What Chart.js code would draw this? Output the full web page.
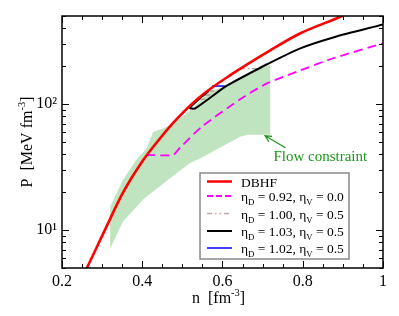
<!DOCTYPE html>
<html>
<head>
<meta charset="utf-8">
<script src="https://cdn.jsdelivr.net/npm/chart.js@4.4.1/dist/chart.umd.min.js"></script>
<style>
  html, body { margin: 0; padding: 0; background: #fff; }
  #wrap { width: 399px; height: 316px; }
</style>
</head>
<body>
<div id="wrap"><canvas id="c" width="399" height="316"></canvas></div>
<script>
// ---- data ----
const dbhfN = [0.25, 0.262, 0.31, 0.35, 0.40, 0.437, 0.477, 0.542, 0.626, 0.719, 0.793, 0.898, 0.92];
const dbhfP = [4.2, 5.0, 10.5, 19.3, 35, 50, 71, 113, 175, 267, 363, 500, 540];

const eta092N = [0.41, 0.477, 0.494, 0.548, 0.651, 0.711, 0.794, 0.876, 1.0];
const eta092P = [39.5, 39.5, 45, 66, 113, 146, 185, 231, 303];

// grey dash-dot: short plateau pieces (the rest lies under the black curve)
const eta100N = [0.545, 0.570, 0.57, 0.557, 0.582, 0.582, 0.567, 0.595, 0.595, 0.643, 0.700];
const eta100P = [109, 109, null, 118, 118, null, 127, 127, null, 191, 191];

const eta103N = [0.565, 0.519, 0.532, 0.606, 0.626, 0.711, 0.794, 0.876, 1.0];
const eta103P = [127, 93.5, 92.5, 137, 149, 207, 277, 338, 428];

const eta102N = [0.574, 0.606];
const eta102P = [139, 139];

// flow constraint band, polygon traced clockwise
const flowN = [0.32, 0.32, 0.352, 0.385, 0.412, 0.427, 0.462, 0.489, 0.512, 0.534, 0.565, 0.606, 0.626, 0.671, 0.719,
               0.719, 0.662, 0.644, 0.544, 0.519, 0.487, 0.402, 0.352, 0.32];
const flowP = [7.1, 15.4, 25.1, 36, 45, 60, 66, 75, 85, 98, 125, 137, 150, 180, 205,
               57, 57, 55, 37, 34, 28.5, 17.5, 11.7, 7.1];

const xMajorTicks = [0.2, 0.4, 0.6, 0.8, 1.0];
const xMinorTicks = [0.25, 0.3, 0.35, 0.45, 0.5, 0.55, 0.65, 0.7, 0.75, 0.85, 0.9, 0.95];
const yMajorTicks = [10, 100];
const yMinorTicks = [5, 6, 7, 8, 9, 20, 30, 40, 50, 60, 70, 80, 90, 200, 300, 400, 500];

const flowLabel = { n: 0.727, P: 35.5, text: 'Flow constraint' };
const flowArrow = { fromN: 0.757, fromP: 45, toN: 0.706, toP: 56 };

const legendItems = [
  { color: '#ff0000', dash: [], width: 2.5, parts: [['DBHF']] },
  { color: '#ff00ff', dash: [6, 3], width: 1.8, parts: [['η'], ['D', 'sub'], [' = 0.92, η'], ['V', 'sub'], [' = 0.0']] },
  { color: '#c8a4a4', dash: [5, 3, 1.5, 3, 1.5, 3], width: 1.5, parts: [['η'], ['D', 'sub'], [' = 1.00, η'], ['V', 'sub'], [' = 0.5']] },
  { color: '#000000', dash: [], width: 2, parts: [['η'], ['D', 'sub'], [' = 1.03, η'], ['V', 'sub'], [' = 0.5']] },
  { color: '#0000ff', dash: [], width: 1.5, parts: [['η'], ['D', 'sub'], [' = 1.02, η'], ['V', 'sub'], [' = 0.5']] }
];

const SERIF = '"Liberation Serif", "Times New Roman", serif';

function pts(xs, ys) {
  return xs.map((x, i) => ({ x: x, y: ys[i] }));
}

// draw text with sub/superscripts, returns width
function drawRich(ctx, x, y, parts, size, measureOnly) {
  let cx = x;
  parts.forEach(p => {
    const kind = p[1];
    const fs = kind ? size * 0.65 : size;
    const dy = kind === 'sub' ? size * 0.3 : kind === 'sup' ? -size * 0.42 : 0;
    ctx.font = fs + 'px ' + SERIF;
    if (!measureOnly) ctx.fillText(p[0], cx, y + dy);
    cx += ctx.measureText(p[0]).width;
  });
  return cx - x;
}

const decorPlugin = {
  id: 'decor',
  afterDatasetsDraw(chart) {
    const ctx = chart.ctx;
    const a = chart.chartArea;
    const xs = chart.scales.x, ys = chart.scales.y;
    ctx.save();

    // frame
    ctx.strokeStyle = '#000';
    ctx.lineWidth = 1.5;
    ctx.strokeRect(a.left, a.top, a.right - a.left, a.bottom - a.top);

    // inward ticks on all sides
    ctx.lineWidth = 1;
    ctx.beginPath();
    const xt = (v, len) => {
      const px = Math.round(xs.getPixelForValue(v)) + 0.5;
      ctx.moveTo(px, a.bottom); ctx.lineTo(px, a.bottom - len);
      ctx.moveTo(px, a.top); ctx.lineTo(px, a.top + len);
    };
    const yt = (v, len) => {
      const py = Math.round(ys.getPixelForValue(v)) + 0.5;
      ctx.moveTo(a.left, py); ctx.lineTo(a.left + len, py);
      ctx.moveTo(a.right, py); ctx.lineTo(a.right - len, py);
    };
    xMajorTicks.forEach(v => xt(v, 7));
    xMinorTicks.forEach(v => xt(v, 4));
    yMajorTicks.forEach(v => yt(v, 7));
    yMinorTicks.forEach(v => yt(v, 4));
    ctx.stroke();

    // flow constraint label + arrow
    ctx.fillStyle = '#1a961a';
    ctx.strokeStyle = '#1a961a';
    ctx.font = '15px ' + SERIF;
    ctx.textBaseline = 'alphabetic';
    ctx.fillText(flowLabel.text, xs.getPixelForValue(flowLabel.n), ys.getPixelForValue(flowLabel.P));
    const x0 = xs.getPixelForValue(flowArrow.fromN), y0 = ys.getPixelForValue(flowArrow.fromP);
    const x1 = xs.getPixelForValue(flowArrow.toN), y1 = ys.getPixelForValue(flowArrow.toP);
    const ang = Math.atan2(y1 - y0, x1 - x0);
    ctx.lineWidth = 1.2;
    ctx.beginPath();
    ctx.moveTo(x0, y0); ctx.lineTo(x1, y1);
    ctx.moveTo(x1 - 7 * Math.cos(ang - 0.45), y1 - 7 * Math.sin(ang - 0.45));
    ctx.lineTo(x1, y1);
    ctx.lineTo(x1 - 7 * Math.cos(ang + 0.45), y1 - 7 * Math.sin(ang + 0.45));
    ctx.stroke();

    // legend box
    const lx = 200, ly = 173, lw = 149, lh = 86;
    ctx.fillStyle = '#fff';
    ctx.fillRect(lx, ly, lw, lh);
    ctx.strokeStyle = '#8a8a8a';
    ctx.lineWidth = 1.5;
    ctx.strokeRect(lx, ly, lw, lh);
    const rowY = [181.5, 196, 213.5, 231, 248];
    legendItems.forEach((it, i) => {
      const yy = rowY[i];
      ctx.strokeStyle = it.color;
      ctx.lineWidth = it.width;
      ctx.setLineDash(it.dash);
      ctx.beginPath();
      ctx.moveTo(207, yy); ctx.lineTo(232, yy);
      ctx.stroke();
      ctx.setLineDash([]);
      ctx.fillStyle = '#000';
      drawRich(ctx, 241, yy + 5, it.parts, 13.5);
    });

    // axis titles
    ctx.fillStyle = '#000';
    drawRich(ctx, 192, 303, [['n  [fm'], ['-3', 'sup'], [']']], 16);
    const yTitle = [['P  [MeV fm'], ['-3', 'sup'], [']']];
    const w = drawRich(ctx, 0, 0, yTitle, 16, true);
    ctx.translate(32, (a.top + a.bottom) / 2);
    ctx.rotate(-Math.PI / 2);
    drawRich(ctx, -w / 2, 0, yTitle, 16);
    ctx.restore();
  }
};

new Chart(document.getElementById('c'), {
  type: 'scatter',
  data: {
    datasets: [
      {
        label: 'DBHF',
        data: pts(dbhfN, dbhfP),
        showLine: true, borderColor: '#ff0000', borderWidth: 2.6,
        cubicInterpolationMode: 'monotone',
        pointRadius: 0, order: 0
      },
      {
        label: 'ηD = 1.03, ηV = 0.5',
        data: pts(eta103N, eta103P),
        showLine: true, borderColor: '#000000', borderWidth: 2,
        tension: 0.25,
        pointRadius: 0, order: 1
      },
      {
        label: 'ηD = 1.02, ηV = 0.5',
        data: pts(eta102N, eta102P),
        showLine: true, borderColor: '#0000ff', borderWidth: 1.5,
        pointRadius: 0, order: 2
      },
      {
        label: 'ηD = 1.00, ηV = 0.5',
        data: pts(eta100N, eta100P),
        showLine: true, spanGaps: false, borderColor: '#b09a9a', borderWidth: 1.4,
        borderDash: [5, 3, 1.5, 3], pointRadius: 0, order: 3
      },
      {
        label: 'ηD = 0.92, ηV = 0.0',
        data: pts(eta092N, eta092P),
        showLine: true, borderColor: '#ff00ff', borderWidth: 1.8,
        borderDash: [9, 5], tension: 0.2,
        pointRadius: 0, order: 4
      },
      {
        label: 'Flow constraint',
        data: pts(flowN, flowP),
        showLine: true, borderWidth: 0, borderColor: 'rgba(0,0,0,0)',
        backgroundColor: '#c0e4c0', fill: 'shape',
        pointRadius: 0, order: 5
      }
    ]
  },
  options: {
    responsive: false,
    animation: false,
    layout: { padding: { top: 16, right: 16, left: 0, bottom: 0 } },
    plugins: {
      legend: { display: false },
      tooltip: { enabled: false }
    },
    scales: {
      x: {
        type: 'linear',
        min: 0.2,
        max: 1,
        grid: { display: false, drawTicks: false },
        border: { display: false },
        ticks: {
          stepSize: 0.2,
          color: '#000',
          padding: 4,
          font: { family: SERIF, size: 16 },
          callback: v => (Math.abs(v - 1) < 1e-9 ? '1' : v.toFixed(1))
        },
        afterFit: s => { s.height = 48; }
      },
      y: {
        type: 'logarithmic',
        min: 5,
        max: 500,
        grid: { display: false, drawTicks: false },
        border: { display: false },
        afterBuildTicks: s => { s.ticks = yMajorTicks.map(v => ({ value: v })); },
        ticks: {
          color: '#000',
          padding: 5,
          font: { family: SERIF, size: 16 },
          callback: v => (v === 10 ? '10¹' : v === 100 ? '10²' : '')
        },
        afterFit: s => { s.width = 62; }
      }
    }
  },
  plugins: [decorPlugin]
});
</script>
</body>
</html>
